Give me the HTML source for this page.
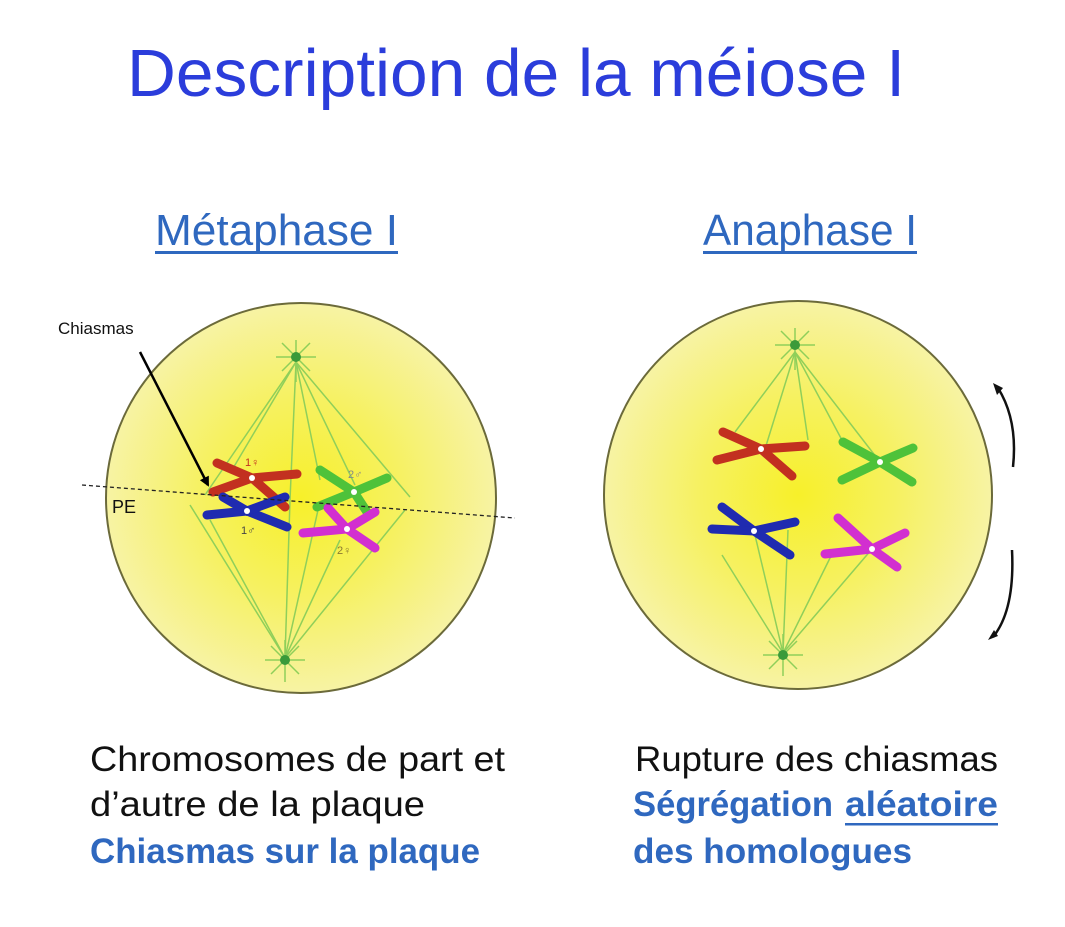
<!DOCTYPE html>
<html><head><meta charset="utf-8"><style>
html,body{margin:0;padding:0;background:#fff;}
svg{display:block;}
</style></head><body>
<svg width="1065" height="927" viewBox="0 0 1065 927" xmlns="http://www.w3.org/2000/svg">
<defs>
<radialGradient id="g" cx="50%" cy="50%" r="50%">
<stop offset="0" stop-color="#f7f02a"/>
<stop offset="0.5" stop-color="#f6f160"/>
<stop offset="1" stop-color="#f7f3a4"/>
</radialGradient>
<marker id="ah" markerWidth="10" markerHeight="10" refX="8" refY="5" orient="auto" markerUnits="userSpaceOnUse">
<path d="M0,0 L10,5 L0,10 z" fill="#000"/></marker>
</defs>
<text x="127" y="96" font-family="Liberation Sans, sans-serif" font-size="67" fill="#2b3ddb" textLength="778" lengthAdjust="spacingAndGlyphs">Description de la méiose I</text>
<text x="155" y="245" font-family="Liberation Sans, sans-serif" font-size="44" fill="#2f68bf" textLength="243" lengthAdjust="spacingAndGlyphs">Métaphase I</text>
<rect x="155" y="251" width="243" height="3" fill="#2f68bf"/>
<text x="703" y="245" font-family="Liberation Sans, sans-serif" font-size="44" fill="#2f68bf" textLength="214" lengthAdjust="spacingAndGlyphs">Anaphase I</text>
<rect x="703" y="251" width="214" height="3" fill="#2f68bf"/>

<!-- left cell -->
<circle cx="301" cy="498" r="195" fill="url(#g)" stroke="#6b6a3a" stroke-width="2"/>
<g stroke="#8fcf5a" stroke-width="1.5" fill="none">
<line x1="296" y1="362" x2="205" y2="495"/><line x1="296" y1="362" x2="232" y2="470"/>
<line x1="296" y1="362" x2="290" y2="500"/><line x1="296" y1="362" x2="320" y2="480"/>
<line x1="296" y1="362" x2="355" y2="485"/><line x1="296" y1="362" x2="410" y2="497"/>
<line x1="285" y1="658" x2="190" y2="505"/><line x1="285" y1="658" x2="210" y2="520"/>
<line x1="285" y1="658" x2="290" y2="500"/><line x1="285" y1="658" x2="340" y2="540"/>
<line x1="285" y1="658" x2="405" y2="510"/><line x1="285" y1="658" x2="318" y2="510"/>
</g>
<g stroke="#8fcf5a" stroke-width="1.5">
<line x1="296" y1="340" x2="296" y2="382"/><line x1="276" y1="357" x2="316" y2="357"/>
<line x1="282" y1="343" x2="310" y2="371"/><line x1="310" y1="343" x2="282" y2="371"/>
<line x1="285" y1="640" x2="285" y2="682"/><line x1="265" y1="660" x2="305" y2="660"/>
<line x1="271" y1="646" x2="299" y2="674"/><line x1="299" y1="646" x2="271" y2="674"/>
</g>
<circle cx="296" cy="357" r="5" fill="#3a9a3a"/><circle cx="285" cy="660" r="5" fill="#3a9a3a"/>
<g stroke-linecap="round" stroke-width="9" fill="none">
<g stroke="#c23020"><path d="M217,463 L252,478 L285,507"/><path d="M297,474 L252,478 L213,492"/></g>
<g stroke="#1f2bb0"><path d="M207,515 L247,511 L287,527"/><path d="M223,497 L247,511 L285,497"/></g>
<g stroke="#4ec23a"><path d="M320,470 L354,492 L387,478"/><path d="M317,507 L354,492 L367,512"/></g>
<g stroke="#d22fd0"><path d="M303,533 L347,529 L375,512"/><path d="M328,508 L347,529 L375,548"/></g>
</g>
<g fill="#fff"><circle cx="252" cy="478" r="3"/><circle cx="247" cy="511" r="3"/><circle cx="354" cy="492" r="3"/><circle cx="347" cy="529" r="3"/></g>
<g font-family="Liberation Sans, sans-serif" font-size="11">
<text x="245" y="466" fill="#c23020">1♀</text><text x="241" y="534" fill="#444">1♂</text>
<text x="348" y="478" fill="#888">2♂</text><text x="337" y="554" fill="#8a7a30">2♀</text>
</g>
<line x1="82" y1="485" x2="515" y2="518" stroke="#222" stroke-width="1.3" stroke-dasharray="4,3"/>
<text x="112" y="513" font-family="Liberation Sans, sans-serif" font-size="18" fill="#111">PE</text>
<text x="58" y="334" font-family="Liberation Sans, sans-serif" font-size="17" fill="#111">Chiasmas</text>
<line x1="140" y1="352" x2="208" y2="485" stroke="#000" stroke-width="2.5" marker-end="url(#ah)"/>

<!-- right cell -->
<circle cx="798" cy="495" r="194" fill="url(#g)" stroke="#6b6a3a" stroke-width="2"/>
<g stroke="#8fcf5a" stroke-width="1.5" fill="none">
<line x1="795" y1="352" x2="735" y2="432"/><line x1="795" y1="352" x2="765" y2="449"/>
<line x1="795" y1="352" x2="808" y2="440"/><line x1="795" y1="352" x2="843" y2="442"/>
<line x1="795" y1="352" x2="880" y2="462"/>
<line x1="783" y1="653" x2="722" y2="555"/><line x1="783" y1="653" x2="754" y2="531"/>
<line x1="783" y1="653" x2="788" y2="530"/><line x1="783" y1="653" x2="832" y2="554"/>
<line x1="783" y1="653" x2="872" y2="549"/>
</g>
<g stroke="#8fcf5a" stroke-width="1.5">
<line x1="795" y1="328" x2="795" y2="370"/><line x1="775" y1="345" x2="815" y2="345"/>
<line x1="781" y1="331" x2="809" y2="359"/><line x1="809" y1="331" x2="781" y2="359"/>
<line x1="783" y1="634" x2="783" y2="676"/><line x1="763" y1="655" x2="803" y2="655"/>
<line x1="769" y1="641" x2="797" y2="669"/><line x1="797" y1="641" x2="769" y2="669"/>
</g>
<circle cx="795" cy="345" r="5" fill="#3a9a3a"/><circle cx="783" cy="655" r="5" fill="#3a9a3a"/>
<g stroke-linecap="round" stroke-width="9" fill="none">
<g stroke="#c23020"><path d="M723,432 L761,449 L792,476"/><path d="M805,446 L761,449 L717,460"/></g>
<g stroke="#4ec23a"><path d="M843,442 L880,462 L912,482"/><path d="M913,448 L880,462 L842,480"/></g>
<g stroke="#1f2bb0"><path d="M722,507 L754,531 L790,555"/><path d="M712,529 L754,531 L795,522"/></g>
<g stroke="#d22fd0"><path d="M838,518 L872,549 L897,567"/><path d="M825,554 L872,549 L905,533"/></g>
</g>
<g fill="#fff"><circle cx="761" cy="449" r="3"/><circle cx="880" cy="462" r="3"/><circle cx="754" cy="531" r="3"/><circle cx="872" cy="549" r="3"/></g>
<path d="M998,388 Q1018,420 1013,467" stroke="#111" stroke-width="2.5" fill="none"/>
<path d="M1012,550 Q1015,610 993,637" stroke="#111" stroke-width="2.5" fill="none"/>
<path d="M993,383 L1003,388 L997,395 z" fill="#111"/>
<path d="M988,640 L998,636 L994,630 z" fill="#111"/>

<!-- bottom text -->
<g font-family="Liberation Sans, sans-serif" font-size="35">
<text x="90" y="771" fill="#111" textLength="415" lengthAdjust="spacingAndGlyphs">Chromosomes de part et</text>
<text x="90" y="816" fill="#111" textLength="335" lengthAdjust="spacingAndGlyphs">d’autre de la plaque</text>
<text x="90" y="863" fill="#2f68bf" font-weight="bold" textLength="390" lengthAdjust="spacingAndGlyphs">Chiasmas sur la plaque</text>
<text x="635" y="771" fill="#111" textLength="363" lengthAdjust="spacingAndGlyphs">Rupture des chiasmas</text>
<text x="633" y="816" fill="#2f68bf" font-weight="bold" textLength="200" lengthAdjust="spacingAndGlyphs">Ségrégation</text>
<text x="845" y="816" fill="#2f68bf" font-weight="bold" textLength="153" lengthAdjust="spacingAndGlyphs">aléatoire</text>
<rect x="845" y="823" width="153" height="2.5" fill="#2f68bf"/>
<text x="633" y="863" fill="#2f68bf" font-weight="bold" textLength="279" lengthAdjust="spacingAndGlyphs">des homologues</text>
</g>
</svg>
</body></html>
